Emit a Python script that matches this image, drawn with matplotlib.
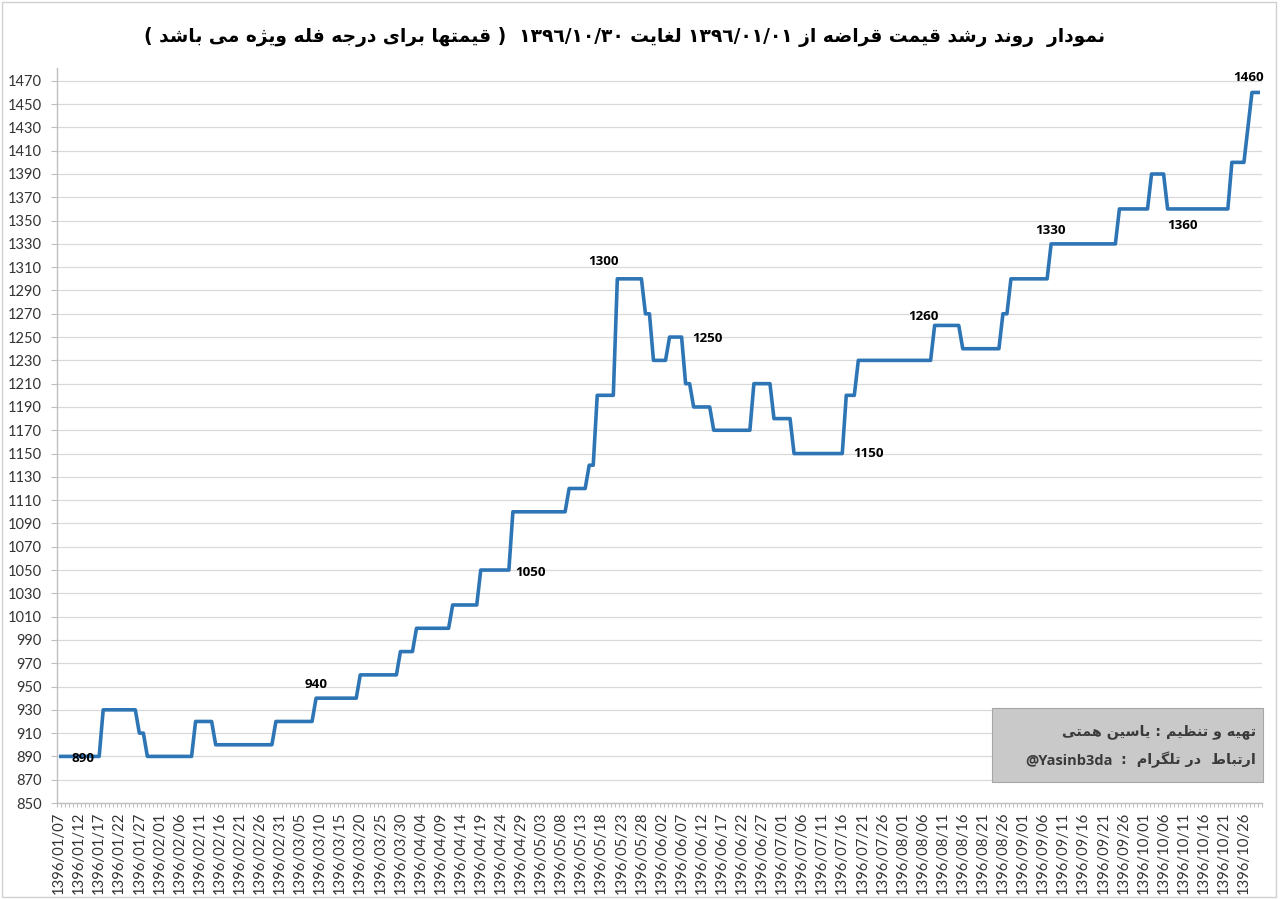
import re
import numpy as np
import matplotlib
matplotlib.use("Agg")
import matplotlib.pyplot as plt
from matplotlib.patches import Rectangle
from matplotlib import font_manager as fm
from matplotlib.ft2font import FT2Font

# ------------------------------------------------------------------ data
start_date = "1396/01/07"
end_date = "1396/10/30"

dates = [
    "1396/01/07", "1396/01/17", "1396/01/18", "1396/01/26", "1396/01/27", "1396/01/28", "1396/01/29",
    "1396/02/09", "1396/02/10", "1396/02/14", "1396/02/15", "1396/02/29", "1396/02/30",
    "1396/03/08", "1396/03/09", "1396/03/19", "1396/03/20", "1396/03/29", "1396/03/30",
    "1396/04/02", "1396/04/03", "1396/04/11", "1396/04/12", "1396/04/18", "1396/04/19", "1396/04/26", "1396/04/27",
    "1396/05/09", "1396/05/10", "1396/05/14", "1396/05/15", "1396/05/16", "1396/05/17", "1396/05/21", "1396/05/22",
    "1396/05/28", "1396/05/29", "1396/05/30", "1396/05/31",
    "1396/06/03", "1396/06/04", "1396/06/07", "1396/06/08", "1396/06/09", "1396/06/10", "1396/06/14", "1396/06/15",
    "1396/06/24", "1396/06/25", "1396/06/29", "1396/06/30",
    "1396/07/03", "1396/07/04", "1396/07/16", "1396/07/17", "1396/07/19", "1396/07/20",
    "1396/08/08", "1396/08/09", "1396/08/15", "1396/08/16", "1396/08/25", "1396/08/26", "1396/08/27", "1396/08/28",
    "1396/09/07", "1396/09/08", "1396/09/24", "1396/09/25",
    "1396/10/02", "1396/10/03", "1396/10/06", "1396/10/07", "1396/10/22", "1396/10/23", "1396/10/26",
    "1396/10/28", "1396/10/30",
]
prices = [
    890, 890, 930, 930, 910, 910, 890,
    890, 920, 920, 900, 900, 920,
    920, 940, 940, 960, 960, 980,
    980, 1000, 1000, 1020, 1020, 1050, 1050, 1100,
    1100, 1120, 1120, 1140, 1140, 1200, 1200, 1300,
    1300, 1270, 1270, 1230,
    1230, 1250, 1250, 1210, 1210, 1190, 1190, 1170,
    1170, 1210, 1210, 1180,
    1180, 1150, 1150, 1200, 1200, 1230,
    1230, 1260, 1260, 1240, 1240, 1270, 1270, 1300,
    1300, 1330, 1330, 1360,
    1360, 1390, 1390, 1360, 1360, 1400, 1400,
    1460, 1460,
]

tick_labels = [
    "1396/01/07", "1396/01/12", "1396/01/17", "1396/01/22", "1396/01/27", "1396/02/01",
    "1396/02/06", "1396/02/11", "1396/02/16", "1396/02/21", "1396/02/26", "1396/02/31",
    "1396/03/05", "1396/03/10", "1396/03/15", "1396/03/20", "1396/03/25", "1396/03/30",
    "1396/04/04", "1396/04/09", "1396/04/14", "1396/04/19", "1396/04/24", "1396/04/29",
    "1396/05/03", "1396/05/08", "1396/05/13", "1396/05/18", "1396/05/23", "1396/05/28",
    "1396/06/02", "1396/06/07", "1396/06/12", "1396/06/17", "1396/06/22", "1396/06/27",
    "1396/07/01", "1396/07/06", "1396/07/11", "1396/07/16", "1396/07/21", "1396/07/26",
    "1396/08/01", "1396/08/06", "1396/08/11", "1396/08/16", "1396/08/21", "1396/08/26",
    "1396/09/01", "1396/09/06", "1396/09/11", "1396/09/16", "1396/09/21", "1396/09/26",
    "1396/10/01", "1396/10/06", "1396/10/11", "1396/10/16", "1396/10/21", "1396/10/26",
]

y_ticks = list(range(850, 1471, 20))

label_dates = ["1396/01/07", "1396/03/09", "1396/04/26", "1396/05/22", "1396/06/07",
               "1396/07/16", "1396/08/09", "1396/09/08", "1396/10/11", "1396/10/30"]
label_texts = ["890", "940", "1050", "1300", "1250", "1150", "1260", "1330", "1360", "1460"]
label_offsets_px = [(24, -2), (0, 14), (22, -2), (-14, 17), (26, -1),
                    (26, 0), (-11, 9), (-1, 13), (-1, -17), (-11, 15)]

title_text = ("نمودار  روند رشد قیمت قراضه از ١٣٩٦/٠١/٠١ لغایت ١٣٩٦/١٠/٣٠  "
              "( قیمتها برای درجه فله ویژه می باشد )")
credit_line1 = "تهیه و تنظیم : یاسین همتی"
credit_line2 = "ارتباط  در تلگرام  :"
credit_handle = "@Yasinb3da"

# ------------------------------------------------------------------ calendar helpers
MONTH_LEN = [31] * 6 + [30] * 5 + [29]


def day_of_year(s):
    _, m, d = (int(p) for p in s.split("/"))
    return sum(MONTH_LEN[:m - 1]) + d


def to_index(s):
    return day_of_year(s) - day_of_year(start_date)


n_days = to_index(end_date) + 1

# ------------------------------------------------------------------ Arabic shaping (no external libs)
# isolated, final, initial, medial ; alternatives (first one fully available in the font wins)
FORMS = {
    '\u0627': [(0xFE8D, 0xFE8E, None, None)],
    '\u0628': [(0xFE8F, 0xFE90, 0xFE91, 0xFE92)],
    '\u062A': [(0xFE95, 0xFE96, 0xFE97, 0xFE98)],
    '\u062B': [(0xFE99, 0xFE9A, 0xFE9B, 0xFE9C)],
    '\u062C': [(0xFE9D, 0xFE9E, 0xFE9F, 0xFEA0)],
    '\u062D': [(0xFEA1, 0xFEA2, 0xFEA3, 0xFEA4)],
    '\u062E': [(0xFEA5, 0xFEA6, 0xFEA7, 0xFEA8)],
    '\u062F': [(0xFEA9, 0xFEAA, None, None)],
    '\u0630': [(0xFEAB, 0xFEAC, None, None)],
    '\u0631': [(0xFEAD, 0xFEAE, None, None)],
    '\u0632': [(0xFEAF, 0xFEB0, None, None)],
    '\u0633': [(0xFEB1, 0xFEB2, 0xFEB3, 0xFEB4)],
    '\u0634': [(0xFEB5, 0xFEB6, 0xFEB7, 0xFEB8)],
    '\u0635': [(0xFEB9, 0xFEBA, 0xFEBB, 0xFEBC)],
    '\u0636': [(0xFEBD, 0xFEBE, 0xFEBF, 0xFEC0)],
    '\u0637': [(0xFEC1, 0xFEC2, 0xFEC3, 0xFEC4)],
    '\u0638': [(0xFEC5, 0xFEC6, 0xFEC7, 0xFEC8)],
    '\u0639': [(0xFEC9, 0xFECA, 0xFECB, 0xFECC)],
    '\u063A': [(0xFECD, 0xFECE, 0xFECF, 0xFED0)],
    '\u0641': [(0xFED1, 0xFED2, 0xFED3, 0xFED4)],
    '\u0642': [(0xFED5, 0xFED6, 0xFED7, 0xFED8)],
    '\u0643': [(0xFED9, 0xFEDA, 0xFEDB, 0xFEDC)],
    '\u0644': [(0xFEDD, 0xFEDE, 0xFEDF, 0xFEE0)],
    '\u0645': [(0xFEE1, 0xFEE2, 0xFEE3, 0xFEE4)],
    '\u0646': [(0xFEE5, 0xFEE6, 0xFEE7, 0xFEE8)],
    '\u0647': [(0xFEE9, 0xFEEA, 0xFEEB, 0xFEEC)],
    '\u0648': [(0xFEED, 0xFEEE, None, None)],
    '\u0649': [(0xFEEF, 0xFEF0, None, None)],
    '\u064A': [(0xFEF1, 0xFEF2, 0xFEF3, 0xFEF4)],
    '\u06CC': [(0xFBFC, 0xFBFD, 0xFBFE, 0xFBFF), (0xFEEF, 0xFEF0, 0xFEF3, 0xFEF4)],
    '\u06A9': [(0xFB8E, 0xFB8F, 0xFB90, 0xFB91), (0xFED9, 0xFEDA, 0xFEDB, 0xFEDC)],
    '\u06AF': [(0xFB92, 0xFB93, 0xFB94, 0xFB95), (0xFB8E, 0xFB8F, 0xFB90, 0xFB91),
               (0xFED9, 0xFEDA, 0xFEDB, 0xFEDC)],
    '\u067E': [(0xFB56, 0xFB57, 0xFB58, 0xFB59), (0xFE8F, 0xFE90, 0xFE91, 0xFE92)],
    '\u0686': [(0xFB7A, 0xFB7B, 0xFB7C, 0xFB7D), (0xFE9D, 0xFE9E, 0xFE9F, 0xFEA0)],
    '\u0698': [(0xFB8A, 0xFB8B, None, None), (0xFEAF, 0xFEB0, None, None)],
}


def charmap_for(family, weight):
    path = fm.findfont(fm.FontProperties(family=family, weight=weight))
    return set(FT2Font(path).get_charmap().keys())


def pick_forms(c, cmap):
    for alt in FORMS[c]:
        if all(g is None or g in cmap for g in alt):
            return alt
    return FORMS[c][-1]


def shape(text, cmap):
    out = []
    chars = list(text)
    for i, c in enumerate(chars):
        if c not in FORMS:
            out.append(c)
            continue
        iso, fin, ini, med = pick_forms(c, cmap)
        prev = chars[i - 1] if i > 0 else None
        nxt = chars[i + 1] if i + 1 < len(chars) else None
        cp = prev in FORMS and FORMS[prev][0][2] is not None
        cn = nxt in FORMS and ini is not None
        if cp and cn:
            g = med
        elif cp:
            g = fin
        elif cn:
            g = ini
        else:
            g = iso
        out.append(chr(g))
    return "".join(out)


LTR_RUN = re.compile(r"[A-Za-z0-9@\u0660-\u0669\u06F0-\u06F9/]+")
MIRROR = {"(": ")", ")": "("}


def rtl(text, cmap):
    s = shape(text, cmap)
    parts, pos = [], 0
    for m in LTR_RUN.finditer(s):
        parts.append(("r", s[pos:m.start()]))
        parts.append(("l", m.group()))
        pos = m.end()
    parts.append(("r", s[pos:]))
    res = ""
    for kind, t in reversed(parts):
        if kind == "r":
            res += "".join(MIRROR.get(c, c) for c in reversed(t))
        else:
            res += t
    return res


cmap_bold = charmap_for("DejaVu Sans", "bold")
BOLD_LATIN = ["Open Sans", "DejaVu Sans"]

# ------------------------------------------------------------------ figure
W, H = 1280, 899
fig = plt.figure(figsize=(W / 100, H / 100), dpi=100)
fig.patch.set_facecolor("white")

ax = fig.add_axes([57 / W, 1 - 803 / H, 1205 / W, 735 / H])

x = [to_index(d) for d in dates]
ax.plot(x, prices, color="#2E75B6", lw=2.6, solid_joinstyle="round",
        solid_capstyle="butt", zorder=3)

ax.set_xlim(-0.5, n_days - 0.5)
ax.set_ylim(850, 1481)

# y axis
ax.set_yticks(y_ticks)
ax.set_yticklabels([str(v) for v in y_ticks])
ax.grid(axis="y", color="#d9d9d9", lw=0.9)
ax.set_axisbelow(True)

# x axis
ax.set_xticks([to_index(t) for t in tick_labels])
ax.set_xticklabels(tick_labels, rotation=90)
ax.set_xticks(np.arange(-0.5, n_days, 1.0), minor=True)

for sp in ("top", "right"):
    ax.spines[sp].set_visible(False)
for sp in ("left", "bottom"):
    ax.spines[sp].set_color("#bfbfbf")
    ax.spines[sp].set_linewidth(1.0)

ax.tick_params(axis="y", which="major", length=4, color="#bfbfbf", pad=7,
               labelsize=10.5, labelcolor="#333333")
ax.tick_params(axis="x", which="major", length=0, pad=6,
               labelsize=10.7, labelcolor="#333333")
ax.tick_params(axis="x", which="minor", length=3, color="#bfbfbf", width=0.8)
for lab in ax.get_xticklabels() + ax.get_yticklabels():
    lab.set_family("Lato")

# data labels
for d, t, (dx, dy) in zip(label_dates, label_texts, label_offsets_px):
    ax.annotate(t, xy=(to_index(d), float(t)), xytext=(dx, dy),
                textcoords="offset pixels", ha="center", va="center",
                fontsize=9.6, fontweight="bold", family=BOLD_LATIN, color="black",
                zorder=4)

# title
fig.text(625 / W, 1 - 37 / H, rtl(title_text, cmap_bold), ha="center", va="center",
         fontsize=13.4, fontweight="bold", family="DejaVu Sans", color="black")

# credit box
fig.add_artist(Rectangle((992 / W, 1 - 782 / H), 271 / W, 74 / H,
                         transform=fig.transFigure, facecolor="#c9c9c9",
                         edgecolor="#a6a6a6", lw=0.8, zorder=5))
fig.text(1256 / W, 1 - 732 / H, rtl(credit_line1, cmap_bold), ha="right", va="center",
         fontsize=10.3, fontweight="bold", family="DejaVu Sans", color="#3a3a3a", zorder=6)
t2 = fig.text(1256 / W, 1 - 760 / H, rtl(credit_line2, cmap_bold), ha="right", va="center",
              fontsize=10.3, fontweight="bold", family="DejaVu Sans", color="#3a3a3a", zorder=6)
fig.canvas.draw()
bb = t2.get_window_extent()
fig.text((bb.x0 - 8) / W, 1 - 760 / H, credit_handle, ha="right", va="center",
         fontsize=10.5, fontweight="bold", family=BOLD_LATIN, color="#3a3a3a", zorder=6)

# outer chart border
fig.add_artist(Rectangle((2 / W, 2 / H), 1274 / W, 895 / H, transform=fig.transFigure,
                         facecolor="none", edgecolor="#d0d0d0", lw=1.0, zorder=0))

fig.savefig("out.png", dpi=100)
